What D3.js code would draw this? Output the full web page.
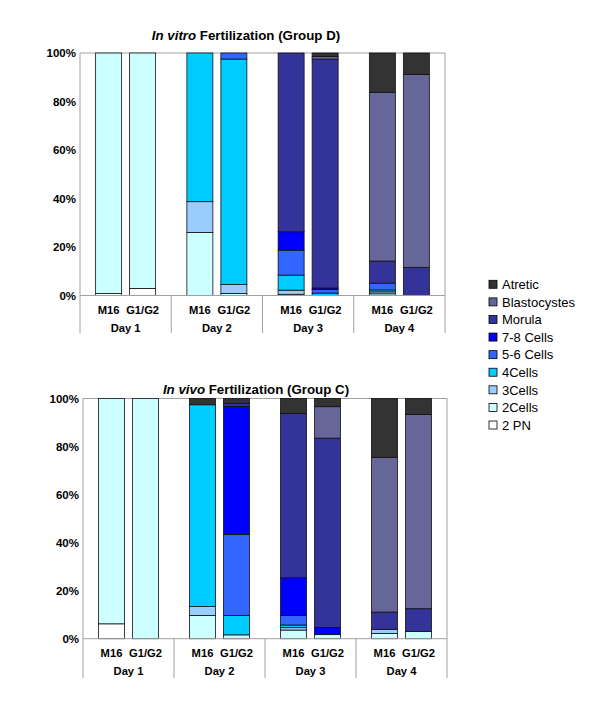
<!DOCTYPE html>
<html>
<head>
<meta charset="utf-8">
<script src="https://cdn.jsdelivr.net/npm/d3@7"></script>
<style>
  body { margin: 0; background: #fff; }
  text { font-family: "Liberation Sans", Arial, sans-serif; }
</style>
</head>
<body>
<div id="chart"></div>
<script>
var svgWidth = 600;
var svgHeight = 726;

// stack order, bottom to top
var stages = ["2 PN", "2Cells", "3Cells", "4Cells", "5-6 Cells", "7-8 Cells", "Morula", "Blastocystes", "Atretic"];
var stageColors = ["#ffffff", "#ccffff", "#99ccff", "#00ccff", "#3366ff", "#0000ff", "#333399", "#666699", "#333333"];

var days = ["Day 1", "Day 2", "Day 3", "Day 4"];
var media = ["M16", "G1/G2"];
var yTicks = [0, 20, 40, 60, 80, 100];

// percentages per bar: Day1 M16, Day1 G1/G2, Day2 M16, Day2 G1/G2, ... Day4 G1/G2
var vitro2PN    = [0.8, 2.9, 0, 0, 0, 0, 0, 0];
var vitro2Cells = [99.2, 97.1, 26, 0.8, 0.5, 0, 0.7, 0];
var vitro3Cells = [0, 0, 12.7, 3.7, 1.7, 0, 0.8, 0];
var vitro4Cells = [0, 0, 61.3, 93, 6.2, 1.0, 0.8, 0];
var vitro56     = [0, 0, 0, 2.5, 10.3, 1.5, 2.8, 0];
var vitro78     = [0, 0, 0, 0, 7.6, 0.6, 0, 0];
var vitroMorula = [0, 0, 0, 0, 73.7, 94.4, 9.1, 11.6];
var vitroBlasto = [0, 0, 0, 0, 0, 1.1, 69.6, 79.6];
var vitroAtret  = [0, 0, 0, 0, 0, 1.4, 16.2, 8.8];

var vivo2PN    = [6.2, 0, 0, 0, 0, 0, 0, 0];
var vivo2Cells = [93.8, 100, 9.7, 1.6, 3.6, 1.7, 2.2, 3.0];
var vivo3Cells = [0, 0, 3.7, 0, 1.0, 0, 1.7, 0];
var vivo4Cells = [0, 0, 84, 8.1, 1.1, 0, 0, 0];
var vivo56     = [0, 0, 0, 33.7, 4.0, 0, 0, 0];
var vivo78     = [0, 0, 0, 53.3, 15.7, 3.0, 0, 0];
var vivoMorula = [0, 0, 0, 1.2, 68.4, 78.8, 7.2, 9.5];
var vivoBlasto = [0, 0, 0, 0, 0, 13.1, 64.4, 80.8];
var vivoAtret  = [0, 0, 2.6, 2.1, 6.2, 3.4, 24.5, 6.7];

var vitroSeries = [vitro2PN, vitro2Cells, vitro3Cells, vitro4Cells, vitro56, vitro78, vitroMorula, vitroBlasto, vitroAtret];
var vivoSeries = [vivo2PN, vivo2Cells, vivo3Cells, vivo4Cells, vivo56, vivo78, vivoMorula, vivoBlasto, vivoAtret];

function buildRows(series) {
  var rows = [];
  days.forEach(function(day, i) {
    media.forEach(function(m, j) {
      var row = { day: day, medium: m };
      stages.forEach(function(s, k) { row[s] = series[k][i * 2 + j]; });
      rows.push(row);
    });
  });
  return rows;
}

var svg = d3.select("#chart")
  .append("svg")
  .attr("width", svgWidth)
  .attr("height", svgHeight);

function drawChart(cfg) {
  var rows = buildRows(cfg.series);
  var g = svg.append("g");

  var x0 = d3.scaleBand().domain(days).range([cfg.left, cfg.right]);
  var dw = x0.bandwidth();
  var x1 = d3.scaleBand().domain(media)
    .range([dw / 2 - 30, dw / 2 + 30])
    .paddingInner(8 / 34);
  var y = d3.scaleLinear().domain([0, 100]).range([cfg.bottom, cfg.top]);

  // frame
  g.append("line")
    .attr("x1", cfg.left).attr("x2", cfg.right)
    .attr("y1", y(100)).attr("y2", y(100))
    .attr("stroke", "#a0a0a0");
  g.append("line")
    .attr("x1", cfg.right).attr("x2", cfg.right)
    .attr("y1", y(100)).attr("y2", cfg.catBottom)
    .attr("stroke", "#a0a0a0");

  var stack = d3.stack().keys(stages);
  var layers = stack(rows);

  g.selectAll("g.layer")
    .data(layers)
    .enter().append("g")
    .attr("class", "layer")
    .attr("fill", function(d, i) { return stageColors[i]; })
    .selectAll("rect")
    .data(function(d) { return d.filter(function(p) { return p[1] - p[0] > 0; }); })
    .enter().append("rect")
    .attr("x", function(d) { return x0(d.data.day) + x1(d.data.medium); })
    .attr("width", x1.bandwidth())
    .attr("y", function(d) { return y(d[1]); })
    .attr("height", function(d) { return y(d[0]) - y(d[1]); })
    .attr("stroke", "#111")
    .attr("stroke-width", 0.8);

  var leftAxis = d3.axisLeft(y).tickValues(yTicks).tickSize(0).tickPadding(4)
    .tickFormat(function(d) { return d + "%"; });
  var ax = g.append("g")
    .attr("transform", "translate(" + cfg.left + ",0)")
    .call(leftAxis);
  ax.select(".domain").remove();
  ax.selectAll("text")
    .attr("font-size", 11.5)
    .attr("font-weight", "bold")
    .attr("fill", "#000");

  // baseline and category separators
  g.append("line")
    .attr("x1", cfg.left).attr("x2", cfg.right)
    .attr("y1", y(0)).attr("y2", y(0))
    .attr("stroke", "#a0a0a0");
  g.append("line")
    .attr("x1", cfg.left).attr("x2", cfg.left)
    .attr("y1", y(100)).attr("y2", cfg.catBottom)
    .attr("stroke", "#a0a0a0");
  g.selectAll("line.sep")
    .data(days.slice(1))
    .enter().append("line")
    .attr("class", "sep")
    .attr("x1", function(d) { return x0(d); })
    .attr("x2", function(d) { return x0(d); })
    .attr("y1", y(0)).attr("y2", cfg.catBottom)
    .attr("stroke", "#a0a0a0");

  g.selectAll("text.medium")
    .data(rows)
    .enter().append("text")
    .attr("class", "medium")
    .attr("x", function(d) { return x0(d.day) + x1(d.medium) + x1.bandwidth() / 2; })
    .attr("y", cfg.mediumY)
    .attr("text-anchor", "middle")
    .attr("font-size", 11.2)
    .attr("font-weight", "bold")
    .text(function(d) { return d.medium; });

  g.selectAll("text.day")
    .data(days)
    .enter().append("text")
    .attr("class", "day")
    .attr("x", function(d) { return x0(d) + dw / 2; })
    .attr("y", cfg.dayY)
    .attr("text-anchor", "middle")
    .attr("font-size", 11.2)
    .attr("font-weight", "bold")
    .text(function(d) { return d; });

  var title = g.append("text")
    .attr("x", cfg.titleX)
    .attr("y", cfg.titleY)
    .attr("text-anchor", "middle")
    .attr("font-size", 13.3)
    .attr("font-weight", "bold");
  title.append("tspan").attr("font-style", "italic").text(cfg.titleItalic);
  title.append("tspan").text(cfg.titleRest);
}

drawChart({
  series: vitroSeries,
  left: 80, right: 445, top: 53, bottom: 295.5, catBottom: 333,
  mediumY: 313.5, dayY: 332,
  titleX: 246, titleY: 39.5,
  titleItalic: "In vitro", titleRest: " Fertilization (Group D)"
});

drawChart({
  series: vivoSeries,
  left: 83, right: 447, top: 398.5, bottom: 638.7, catBottom: 678,
  mediumY: 656.5, dayY: 675,
  titleX: 256, titleY: 394,
  titleItalic: "In vivo", titleRest: " Fertilization (Group C)"
});

// legend, top entry first
var legendStages = stages.slice().reverse();
var legendColors = stageColors.slice().reverse();
var legend = svg.append("g");
var ly = d3.scalePoint().domain(legendStages).range([284.3, 425]);

legend.selectAll("rect")
  .data(legendStages)
  .enter().append("rect")
  .attr("x", 489)
  .attr("y", function(d) { return ly(d) - 4; })
  .attr("width", 8)
  .attr("height", 8)
  .attr("fill", function(d, i) { return legendColors[i]; })
  .attr("stroke", "#000")
  .attr("stroke-width", 0.8);

legend.selectAll("text")
  .data(legendStages)
  .enter().append("text")
  .attr("x", 502)
  .attr("y", function(d) { return ly(d) + 4.7; })
  .attr("font-size", 13)
  .text(function(d) { return d; });
</script>
</body>
</html>
